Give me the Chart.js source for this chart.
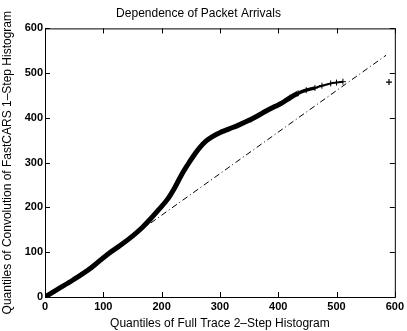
<!DOCTYPE html>
<html>
<head>
<meta charset="utf-8">
<script src="https://cdn.jsdelivr.net/npm/chart.js@4.4.0/dist/chart.umd.min.js"></script>
<style>
  html, body { margin: 0; padding: 0; background: #fff; }
  #wrap { width: 407px; height: 331px; }
</style>
</head>
<body>
<div id="wrap"><canvas id="grafica" width="407" height="331"></canvas></div>
<script>
// quantile pairs
const fullTraceQ = [0, 20, 48, 80, 106, 130, 150, 165, 180, 195, 210, 222, 235, 245, 252, 265, 276, 288, 298, 315, 332, 349, 365, 380, 395, 406, 420, 434, 448, 463, 475, 490, 500, 511];
const convQ = [0, 16, 38, 66, 94, 116, 136, 153, 173, 195, 218, 243, 275, 296, 310, 333, 348, 359, 366, 375, 384, 394, 405, 416, 426, 433, 445, 455, 462, 467, 472, 477, 479, 481];
const outlierX = [590];
const outlierY = [480];
// reference line (dash-dot)
const refX = [0, 585];
const refY = [-3, 540];
const ticks = [0, 100, 200, 300, 400, 500, 600];

const pts = (xs, ys) => xs.map((x, i) => ({ x: x, y: ys[i] }));

const fontFam = '"Liberation Sans", Arial, Helvetica, sans-serif';

// box around plot + inward ticks on all sides, matlab style
const boxTicks = {
    id: 'boxTicks',
    afterDraw(chart) {
        const c = chart.ctx;
        const a = chart.chartArea;
        const xs = chart.scales.x, ys = chart.scales.y;
        const len = 5;
        c.save();
        c.strokeStyle = '#000';
        c.lineWidth = 1;
        c.strokeRect(a.left + 0.5, a.top + 0.5, a.right - a.left, a.bottom - a.top);
        c.beginPath();
        ticks.forEach(t => {
            const px = Math.round(xs.getPixelForValue(t)) + 0.5;
            c.moveTo(px, a.bottom); c.lineTo(px, a.bottom - len);
            c.moveTo(px, a.top); c.lineTo(px, a.top + len);
            const py = Math.round(ys.getPixelForValue(t)) + 0.5;
            c.moveTo(a.left, py); c.lineTo(a.left + len, py);
            c.moveTo(a.right, py); c.lineTo(a.right - len, py);
        });
        c.stroke();
        c.restore();
    }
};

new Chart(document.getElementById('grafica').getContext('2d'), {
    type: 'scatter',
    data: {
        datasets: [
            {
                label: 'reference',
                data: pts(refX, refY),
                showLine: true,
                borderColor: '#000',
                borderWidth: 1,
                borderDash: [6, 3, 1, 3],
                pointRadius: 0
            },
            {
                label: 'quantiles',
                data: pts(fullTraceQ, convQ),
                showLine: true,
                cubicInterpolationMode: 'monotone',
                borderColor: '#000',
                borderWidth: 5,
                segment: {
                    borderWidth: ctx => ctx.p0.parsed.x >= 463 ? 2 : (ctx.p0.parsed.x >= 434 ? 3.5 : 5)
                },
                pointStyle: 'cross',
                pointRadius: ctx => (ctx.raw && ctx.raw.x >= 420) ? 3 : 0,
                pointBorderColor: '#000',
                pointBorderWidth: 1
            },
            {
                label: 'outlier',
                data: pts(outlierX, outlierY),
                pointStyle: 'cross',
                pointRadius: 3,
                pointBorderColor: '#000',
                pointBorderWidth: 1.2
            }
        ]
    },
    options: {
        responsive: false,
        animation: false,
        layout: { padding: { left: 0, right: 10, top: 0, bottom: 0 } },
        plugins: {
            legend: { display: false },
            tooltip: { enabled: false },
            title: {
                display: true,
                text: 'Dependence of Packet Arrivals',
                color: '#000',
                font: { family: fontFam, size: 12, weight: 'normal' },
                padding: { top: 6, bottom: 8 }
            }
        },
        scales: {
            x: {
                type: 'linear',
                min: 0, max: 600,
                afterBuildTicks: s => { s.ticks = ticks.map(v => ({ value: v })); },
                afterFit: s => { s.height = 34; },
                grid: { display: false, drawTicks: false },
                border: { display: false },
                ticks: {
                    color: '#000',
                    padding: 3,
                    font: { family: fontFam, size: 11, weight: 'bold' }
                },
                title: {
                    display: true,
                    text: 'Quantiles of Full Trace 2\u2013Step Histogram',
                    color: '#000',
                    font: { family: fontFam, size: 12 },
                    padding: { top: -2, bottom: 0 }
                }
            },
            y: {
                type: 'linear',
                min: 0, max: 600,
                afterBuildTicks: s => { s.ticks = ticks.map(v => ({ value: v })); },
                afterFit: s => { s.width = 45; },
                grid: { display: false, drawTicks: false },
                border: { display: false },
                ticks: {
                    color: '#000',
                    padding: 2,
                    font: { family: fontFam, size: 11, weight: 'bold' }
                },
                title: {
                    display: true,
                    text: 'Quantiles of Convolution of FastCARS 1\u2013Step Histogram',
                    color: '#000',
                    font: { family: fontFam, size: 12 },
                    padding: { top: 0, bottom: 0 }
                }
            }
        }
    },
    plugins: [boxTicks]
});
</script>
</body>
</html>
